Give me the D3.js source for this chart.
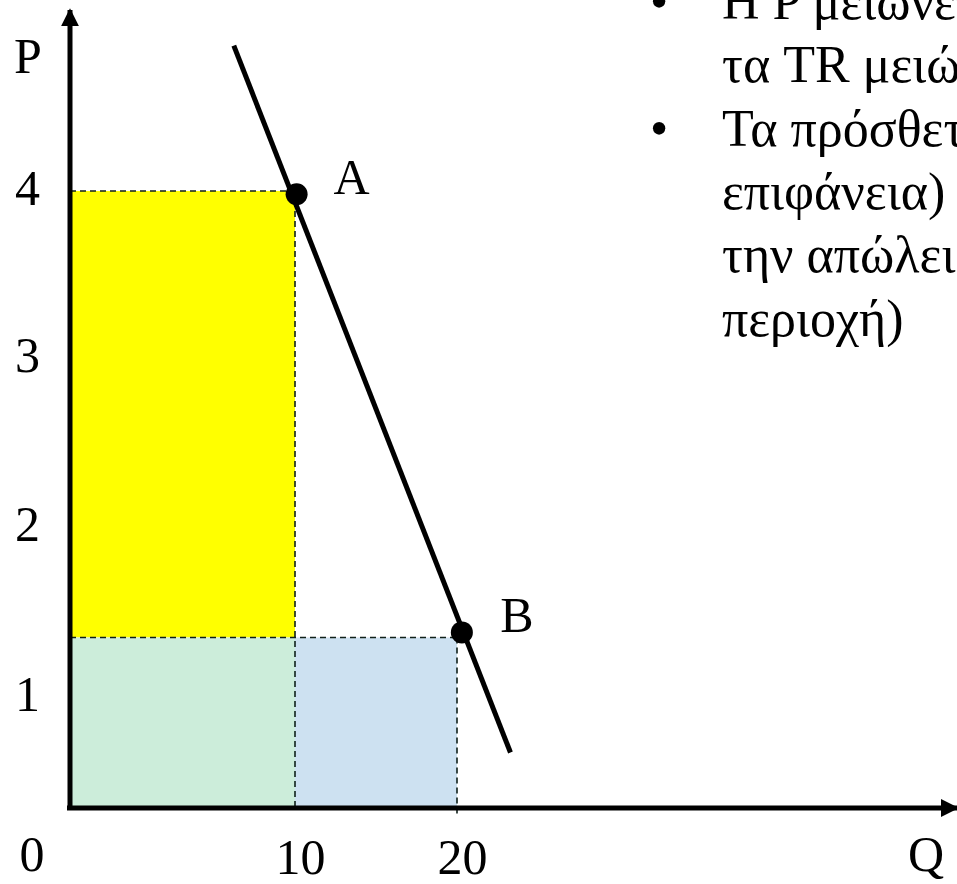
<!DOCTYPE html>
<html>
<head>
<meta charset="utf-8">
<script src="https://cdn.jsdelivr.net/npm/d3@7"></script>
<style>
  html, body { margin: 0; padding: 0; background: #fff; overflow: hidden; }
  svg { display: block; }
  text { font-family: "Liberation Serif", "Times New Roman", serif; fill: #000; }
</style>
</head>
<body>
<svg id="chart" width="957" height="884"></svg>
<script>
// ---- data ----
const qTicks = [10, 20];
const pTicks = [1, 2, 3, 4];
const pointA = [10, 4];          // (Q, P) corner of the revenue rectangles
const pointB = [20, 1.35];
const dotLabels = ["A", "B"];
const dotValues = [[10.1, 3.98], [20.3, 1.38]];   // where the dots sit
const demandLine = [[7.28, 4.87], [23.3, 0.5]];   // demand curve end points
const bulletLines = [
  { text: "Η P μειώνεται και", bullet: true },
  { text: "τα TR μειώνονται", bullet: false },
  { text: "Τα πρόσθετα έσοδα (μπλε", bullet: true },
  { text: "επιφάνεια) είναι μικρότερα από", bullet: false },
  { text: "την απώλεια εσόδων (κίτρινη", bullet: false },
  { text: "περιοχή)", bullet: false }
];

// ---- scales (the drawing's axes are not evenly spaced) ----
const x = d3.scaleLinear().domain([0, 10, 20]).range([70, 295, 457]);
const y = d3.scaleLinear().domain([0, 1, 2, 3, 4]).range([808, 697, 527, 358, 191]);

const svg = d3.select("#chart");

// ---- shaded revenue areas ----
const areas = [
  { q0: 0, q1: pointA[0], p0: pointB[1], p1: pointA[1], fill: "#ffff00" },
  { q0: 0, q1: pointA[0], p0: 0, p1: pointB[1], fill: "#ccedda" },
  { q0: pointA[0], q1: pointB[0], p0: 0, p1: pointB[1], fill: "#cde1f1" }
];
svg.append("g").selectAll("rect").data(areas).join("rect")
  .attr("x", d => x(d.q0))
  .attr("y", d => y(d.p1))
  .attr("width", d => x(d.q1) - x(d.q0))
  .attr("height", d => y(d.p0) - y(d.p1))
  .attr("fill", d => d.fill);

// ---- dashed guide lines ----
const guides = [
  [[0, pointA[1]], [pointA[0], pointA[1]]],
  [[pointA[0], pointA[1]], [pointA[0], 0]],
  [[0, pointB[1]], [dotValues[1][0], pointB[1]]],
  [[pointB[0], pointB[1]], [pointB[0], -0.06]]
];
svg.append("g").selectAll("line").data(guides).join("line")
  .attr("x1", d => x(d[0][0])).attr("y1", d => y(d[0][1]))
  .attr("x2", d => x(d[1][0])).attr("y2", d => y(d[1][1]))
  .attr("stroke", "#10201a").attr("stroke-width", 1.6)
  .attr("stroke-dasharray", "6,4");

// ---- arrow marker ----
const defs = svg.append("defs");
defs.append("marker")
  .attr("id", "arrow").attr("viewBox", "0 0 10 10")
  .attr("refX", 9).attr("refY", 5)
  .attr("markerWidth", 3.6).attr("markerHeight", 3.6)
  .attr("markerUnits", "strokeWidth")
  .attr("orient", "auto")
  .append("path").attr("d", "M0,0 L10,5 L0,10 Z").attr("fill", "#000");

// ---- axes lines with arrows ----
svg.append("line")
  .attr("x1", x(0)).attr("y1", y(0) + 2)
  .attr("x2", x(0)).attr("y2", 10)
  .attr("stroke", "#000").attr("stroke-width", 5)
  .attr("marker-end", "url(#arrow)");
svg.append("line")
  .attr("x1", x(0) - 3).attr("y1", y(0))
  .attr("x2", 957).attr("y2", y(0))
  .attr("stroke", "#000").attr("stroke-width", 5)
  .attr("marker-end", "url(#arrow)");

// ---- tick labels via d3 axes ----
const yAxis = svg.append("g")
  .attr("transform", `translate(${x(0)},0)`)
  .call(d3.axisLeft(y).tickValues(pTicks).tickSize(0).tickPadding(30).tickFormat(d3.format("d")));
yAxis.select(".domain").remove();
yAxis.selectAll("text")
  .attr("font-size", 50).attr("font-family", "Liberation Serif, serif")
  .attr("dy", "0.26em").attr("fill", "#000");

const xAxis = svg.append("g")
  .attr("transform", `translate(0,${y(0)})`)
  .call(d3.axisBottom(x).tickValues(qTicks).tickSize(0).tickPadding(30).tickFormat(d3.format("d")));
xAxis.select(".domain").remove();
xAxis.selectAll("text")
  .attr("font-size", 50).attr("font-family", "Liberation Serif, serif")
  .attr("dx", 5).attr("fill", "#000");

// origin and axis names
svg.append("text").attr("x", x(0) - 38).attr("y", y(0) + 63)
  .attr("text-anchor", "middle").attr("font-size", 50).text("0");
svg.append("text").attr("x", x(0) - 42).attr("y", 73)
  .attr("text-anchor", "middle").attr("font-size", 50).text("P");
svg.append("text").attr("x", 926).attr("y", y(0) + 63)
  .attr("text-anchor", "middle").attr("font-size", 50).text("Q");

// ---- demand line ----
svg.append("path")
  .datum(demandLine)
  .attr("d", d3.line().x(d => x(d[0])).y(d => y(d[1])))
  .attr("stroke", "#000").attr("stroke-width", 5).attr("fill", "none");

// ---- points A and B ----
svg.append("g").selectAll("circle").data(dotValues).join("circle")
  .attr("cx", d => x(d[0])).attr("cy", d => y(d[1]))
  .attr("r", 11).attr("fill", "#000");
svg.append("g").selectAll("text").data(dotValues).join("text")
  .attr("x", d => x(d[0]) + 55).attr("y", d => y(d[1]))
  .attr("text-anchor", "middle").attr("font-size", 50)
  .text((d, i) => dotLabels[i]);

// ---- bullet text ----
const lineH = 63.3, firstBase = 19;
const tg = svg.append("g");
tg.selectAll("text.line").data(bulletLines).join("text")
  .attr("class", "line")
  .attr("x", 722).attr("y", (d, i) => firstBase + i * lineH)
  .attr("font-size", 52)
  .text(d => d.text);
tg.selectAll("text.bullet").data(bulletLines.filter(d => d.bullet)).join("text")
  .attr("class", "bullet")
  .attr("x", 659).attr("y", d => firstBase + bulletLines.indexOf(d) * lineH)
  .attr("text-anchor", "middle")
  .attr("font-size", 52)
  .text("•");
</script>
</body>
</html>
